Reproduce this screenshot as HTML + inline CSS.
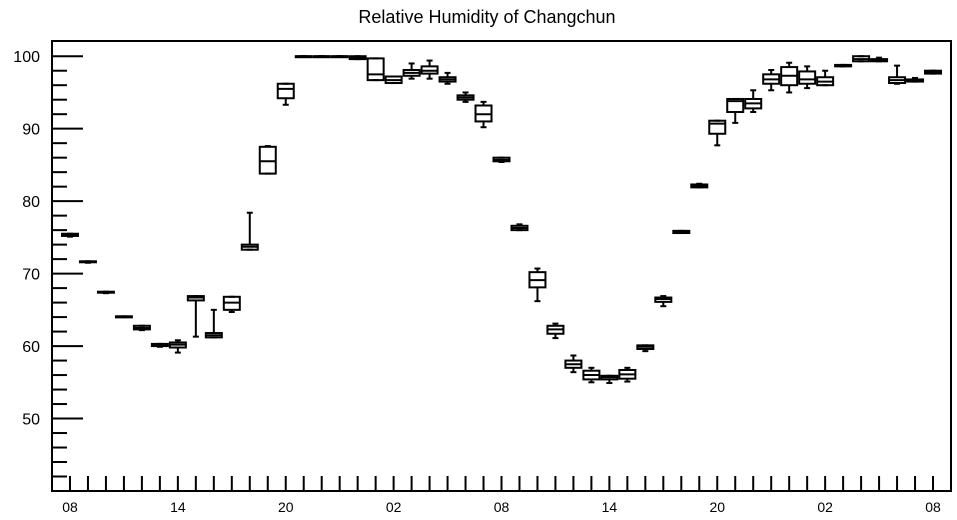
<!DOCTYPE html>
<html><head><meta charset="utf-8"><style>
html,body{margin:0;padding:0;background:#fff;}
svg{display:block;font-family:"Liberation Sans",sans-serif;}
</style></head><body>
<svg id="chart" width="957" height="520" viewBox="0 0 957 520">
<text x="487" y="23" font-size="18" text-anchor="middle">Relative Humidity of Changchun</text>
<rect x="52" y="41" width="899" height="450" fill="none" stroke="#000" stroke-width="2"/>
<g id="axes"></g>
<g id="boxes"></g>
</svg>
<script>
const hours = [];
for (let h = 8; h <= 56; h++) hours.push(h);
const mins   = [75.1,71.5,67.3,64.0,62.2,59.9,59.1,61.3,61.2,64.7,73.3,83.8,93.3,100,100,100,99.6,96.7,96.3,96.9,96.9,96.2,93.7,90.2,85.4,76.0,66.2,61.1,56.4,55.0,54.9,55.1,59.3,65.5,75.6,81.9,87.7,90.8,92.3,95.3,95.0,95.6,96.0,98.6,99.3,99.3,96.2,96.5,97.6];
const q1s    = [75.2,71.6,67.4,64.1,62.3,60.0,59.8,66.3,61.2,65.0,73.3,83.8,94.2,100,100,100,99.6,96.7,96.3,97.3,97.6,96.5,94.0,91.0,85.5,76.0,68.1,61.7,57.0,55.4,55.4,55.5,59.6,66.1,75.6,81.9,89.3,92.3,92.8,96.2,96.0,96.2,96.0,98.6,99.3,99.3,96.3,96.5,97.6];
const medians= [75.3,71.6,67.4,64.1,62.5,60.1,60.2,66.7,61.5,66.0,73.7,85.5,95.5,100,100,100,99.8,97.5,96.7,97.7,98.0,96.8,94.3,92.0,85.7,76.3,69.1,62.3,57.5,56.0,55.7,56.1,59.9,66.5,75.8,82.1,90.7,93.8,93.5,96.8,97.3,96.8,96.5,98.7,99.6,99.4,96.7,96.6,97.8];
const q3s    = [75.5,71.7,67.5,64.1,62.8,60.3,60.5,66.9,61.8,66.8,74.0,87.5,96.2,100,100,100,100,99.7,97.2,98.1,98.6,97.1,94.6,93.2,86.0,76.6,70.2,62.8,58.0,56.6,55.9,56.7,60.1,66.7,75.9,82.3,91.1,94.1,94.1,97.5,98.5,97.9,97.1,98.8,100,99.6,97.1,96.8,98.0];
const maxs   = [75.5,71.7,67.5,64.1,62.8,60.3,60.8,66.9,65.0,66.8,78.4,87.6,96.2,100,100,100,100,99.7,97.2,99.0,99.4,97.7,95.0,93.7,86.0,76.8,70.7,63.1,58.7,57.0,55.9,57.0,60.1,66.9,75.9,82.4,91.1,94.1,95.3,98.1,99.1,98.6,98.0,98.8,100,99.8,98.7,97.0,98.0];
const yTickLabels = [50,60,70,80,90,100];
const xTickLabels = ["08","14","20","02","08","14","20","02","08"];

const NS="http://www.w3.org/2000/svg";
const L=52,R=951,T=41,B=491, XMIN=7, XMAX=57, YMIN=40, YMAX=102.1;
const xs=v=>L+(v-XMIN)/(XMAX-XMIN)*(R-L);
const ys=v=>B-(v-YMIN)/(YMAX-YMIN)*(B-T);
function mk(tag,attrs,parent){const e=document.createElementNS(NS,tag);for(const k in attrs)e.setAttribute(k,attrs[k]);parent.appendChild(e);return e;}
const axes=document.getElementById('axes');
for(let v=42; v<=100; v+=2){
  const major=v%10===0;
  const t=mk('line',{x1:L,x2:L+(major?31:15),y1:ys(v),y2:ys(v),stroke:'#000','stroke-width':2},axes);
  
  
}
yTickLabels.forEach(v=>{
  const t=mk('text',{x:40,y:ys(v)+6,'font-size':16,'text-anchor':'end'},axes);
  t.textContent=v;
  
  
});
hours.forEach(h=>{
  const t=mk('line',{x1:xs(h),x2:xs(h),y1:B,y2:B-15,stroke:'#000','stroke-width':2},axes);
  
  
});
xTickLabels.forEach((lab,i)=>{
  const t=mk('text',{x:xs(8+6*i),y:512,'font-size':14,'text-anchor':'middle'},axes);
  t.textContent=lab;
  
  
});
const boxes=document.getElementById('boxes');
hours.forEach((h,i)=>{
  const g=mk('g',{stroke:'#000','stroke-width':2,fill:'none'},boxes);
  
  
  const cx=xs(h), w=8;
  const yTop=ys(q3s[i]), yBot=ys(q1s[i]);
  mk('line',{x1:cx,x2:cx,y1:ys(maxs[i]),y2:yTop},g);
  mk('line',{x1:cx,x2:cx,y1:yBot,y2:ys(mins[i])},g);
  mk('line',{x1:cx-3,x2:cx+3,y1:ys(maxs[i]),y2:ys(maxs[i])},g);
  mk('line',{x1:cx-3,x2:cx+3,y1:ys(mins[i]),y2:ys(mins[i])},g);
  mk('rect',{x:cx-w,y:yTop,width:2*w,height:Math.max(1,yBot-yTop)},g);
  mk('line',{x1:cx-w,x2:cx+w,y1:ys(medians[i]),y2:ys(medians[i])},g);
});
</script>
</body></html>
